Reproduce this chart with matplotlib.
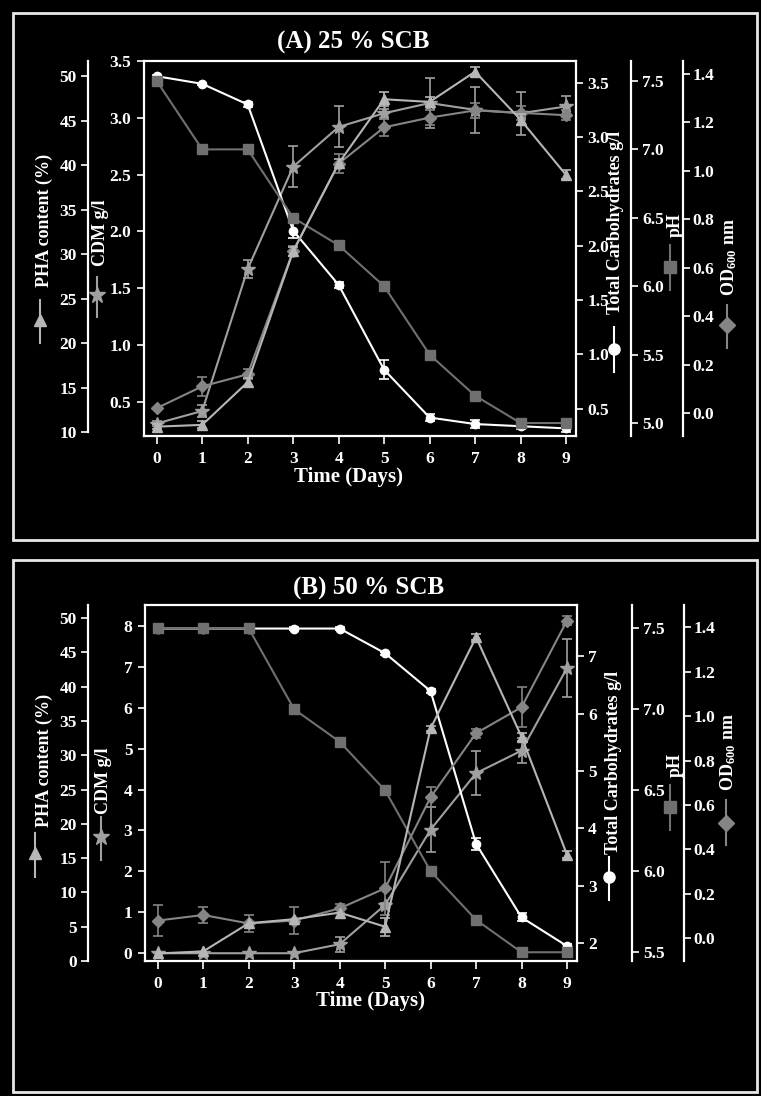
import matplotlib
matplotlib.use('Agg')
import matplotlib.pyplot as plt
from matplotlib.lines import Line2D
from matplotlib.patches import Rectangle
from matplotlib.ticker import FormatStrFormatter
import numpy as np

plt.rcParams['font.family'] = 'Liberation Serif'
plt.rcParams['font.weight'] = 'bold'
plt.rcParams['mathtext.fontset'] = 'custom'
plt.rcParams['mathtext.rm'] = 'Liberation Serif:bold'
plt.rcParams['mathtext.default'] = 'rm'

W, H = 761, 1096

# grey levels used for the five series
C_CARB = '#ffffff'
C_PH = '#707070'
C_OD = '#858585'
C_CDM = '#a0a0a0'
C_PHA = '#b6b6b6'

# --- Data ------------------------------------------------------------
days = np.arange(10)
day_ticks = list(range(10))

# (A) 25 % SCB
a_carb = [3.56, 3.49, 3.30, 2.14, 1.64, 0.86, 0.42, 0.36, 0.34, 0.32]
a_carb_err = [0.01, 0.01, 0.02, 0.07, 0.03, 0.09, 0.03, 0.04, 0.03, 0.03]
a_ph = [7.5, 7.0, 7.0, 6.5, 6.3, 6.0, 5.5, 5.2, 5.0, 5.0]
a_od = [0.02, 0.11, 0.16, 0.67, 1.03, 1.18, 1.22, 1.25, 1.24, 1.23]
a_od_err = [0, 0.04, 0.02, 0.02, 0.04, 0.035, 0.03, 0.03, 0.03, 0.02]
a_cdm = [0.31, 0.42, 1.67, 2.57, 2.92, 3.04, 3.13, 3.07, 3.04, 3.10]
a_cdm_err = [0.02, 0.05, 0.08, 0.18, 0.18, 0.04, 0.22, 0.20, 0.19, 0.09]
a_pha = [10.6, 10.8, 15.6, 30.3, 40.2, 47.4, 47.1, 50.5, 45.1, 38.9]
a_pha_err = [0.3, 0.4, 0.5, 0.5, 0.5, 0.8, 0.5, 0.5, 0.6, 0.5]

# (B) 50 % SCB
b_carb = [7.48, 7.48, 7.48, 7.48, 7.48, 7.05, 6.39, 3.73, 2.45, 1.95]
b_carb_err = [0.02, 0.02, 0.02, 0.02, 0.02, 0.03, 0.04, 0.10, 0.07, 0.03]
b_ph = [7.5, 7.5, 7.5, 7.0, 6.8, 6.5, 6.0, 5.7, 5.5, 5.5]
b_od = [0.08, 0.105, 0.067, 0.08, 0.135, 0.225, 0.635, 0.923, 1.04, 1.43]
b_od_err = [0.07, 0.035, 0.04, 0.06, 0.02, 0.12, 0.045, 0.02, 0.09, 0.02]
b_cdm = [0.0, 0.0, 0.0, 0.0, 0.22, 1.18, 3.02, 4.40, 4.95, 6.97]
b_cdm_err = [0, 0, 0, 0, 0.18, 0.05, 0.55, 0.53, 0.30, 0.71]
b_pha = [1.1, 1.4, 5.5, 6.1, 7.05, 5.0, 33.9, 47.2, 32.7, 15.5]
b_pha_err = [0, 0, 0, 0, 0, 1.3, 0.4, 0.4, 0.6, 0.5]

a_ticks = {
    'cdm': [0.5, 1.0, 1.5, 2.0, 2.5, 3.0, 3.5],
    'pha': [10, 15, 20, 25, 30, 35, 40, 45, 50],
    'carb': [0.5, 1.0, 1.5, 2.0, 2.5, 3.0, 3.5],
    'ph': [5.0, 5.5, 6.0, 6.5, 7.0, 7.5],
    'od': [0.0, 0.2, 0.4, 0.6, 0.8, 1.0, 1.2, 1.4],
}
b_ticks = {
    'cdm': [0, 1, 2, 3, 4, 5, 6, 7, 8],
    'pha': [0, 5, 10, 15, 20, 25, 30, 35, 40, 45, 50],
    'carb': [2, 3, 4, 5, 6, 7],
    'ph': [5.5, 6.0, 6.5, 7.0, 7.5],
    'od': [0.0, 0.2, 0.4, 0.6, 0.8, 1.0, 1.2, 1.4],
}

fig = plt.figure(figsize=(W / 100, H / 100), dpi=100, facecolor='black')


def fx(x):
    return x / W


def fy(y):
    return 1 - y / H


def frame(x0, y0, x1, y1):
    fig.patches.append(Rectangle((fx(x0), fy(y1)), fx(x1) - fx(x0), fy(y0) - fy(y1),
                                 transform=fig.transFigure, fill=False,
                                 edgecolor='#e8e8e8', linewidth=2))


def style_axis(ax, side, ticks, fmt, pad):
    ax.set_yticks(ticks)
    if fmt:
        ax.yaxis.set_major_formatter(FormatStrFormatter(fmt))
    ax.tick_params(axis='y', which='both', colors='white', labelsize=12.5,
                   length=5, width=1.2, pad=pad, direction='out',
                   left=(side == 'left'), labelleft=(side == 'left'),
                   right=(side == 'right'), labelright=(side == 'right'))


def series(ax, y, err, color, marker, ms, z, mfc=None):
    y = np.asarray(y, float)
    ax.plot(days, y, color=color, lw=1.5, marker=marker, ms=ms,
            mfc=mfc or color, mec=color, zorder=z, clip_on=False)
    err = np.asarray(err, float)
    m = err > 0
    if m.any():
        ax.errorbar(days[m], y[m], yerr=err[m], fmt='none', ecolor=color,
                    elinewidth=1.2, capsize=3.5, capthick=1.2, zorder=z,
                    clip_on=False)


def legend_key(x, ymid, y0, y1, color, marker, ms):
    fig.add_artist(Line2D([fx(x), fx(x)], [fy(y0), fy(y1)], transform=fig.transFigure,
                          color=color, lw=1.5))
    fig.add_artist(Line2D([fx(x)], [fy(ymid)], transform=fig.transFigure,
                          marker=marker, ms=ms, color=color, mec=color, lw=0))


def panel(box, x_pha, x_ph, x_od, lims, ticks, fmts, data):
    x0, y0, x1, y1 = box
    ax = fig.add_axes([fx(x0), fy(y1), fx(x1) - fx(x0), fy(y0) - fy(y1)])
    ax.set_facecolor('black')
    for s in ax.spines.values():
        s.set_color('white')
        s.set_linewidth(1.6)
    ax.set_xlim(-0.28, 9.22)
    ax.set_xticks(day_ticks)
    ax.tick_params(axis='x', colors='white', labelsize=12.5, length=6, width=1.2, pad=5)
    ax.set_ylim(*lims['cdm'])
    style_axis(ax, 'left', ticks['cdm'], fmts['cdm'], 4)

    ax_carb = ax.twinx()
    ax_ph = ax.twinx()
    ax_od = ax.twinx()
    ax_pha = ax.twinx()
    for a in (ax_carb, ax_ph, ax_od, ax_pha):
        for s in a.spines.values():
            s.set_visible(False)
            s.set_color('white')
            s.set_linewidth(1.6)
    ax_carb.set_ylim(*lims['carb'])
    style_axis(ax_carb, 'right', ticks['carb'], fmts['carb'], 3)

    ax_ph.spines['right'].set_visible(True)
    ax_ph.spines['right'].set_position(('outward', (x_ph - x1) * 0.72))
    ax_ph.set_ylim(*lims['ph'])
    style_axis(ax_ph, 'right', ticks['ph'], '%.1f', 3)

    ax_od.spines['right'].set_visible(True)
    ax_od.spines['right'].set_position(('outward', (x_od - x1) * 0.72))
    ax_od.set_ylim(*lims['od'])
    style_axis(ax_od, 'right', ticks['od'], '%.1f', 2)

    ax_pha.spines['left'].set_visible(True)
    ax_pha.spines['left'].set_position(('outward', (x0 - x_pha) * 0.72))
    ax_pha.set_ylim(*lims['pha'])
    ax_pha.spines['left'].set_bounds(ticks['pha'][0], lims['pha'][1])
    ax_pha.yaxis.set_label_position('left')
    style_axis(ax_pha, 'left', ticks['pha'], None, 3)

    carb, carb_err, ph, od, od_err, cdm, cdm_err, pha, pha_err = data
    series(ax_ph, ph, [0] * 10, C_PH, 's', 6.5, 2)
    series(ax_od, od, od_err, C_OD, 'D', 6.5, 3)
    series(ax_pha, pha, pha_err, C_PHA, '^', 7, 4)
    series(ax, cdm, cdm_err, C_CDM, '*', 10, 5)
    series(ax_carb, carb, carb_err, C_CARB, 'o', 6, 6)
    return ax


# frames around the two panels
frame(13, 13, 757, 540)
frame(13, 560, 757, 1092)

# --- Panel A ---------------------------------------------------------
panel((144, 61, 576, 436), 88, 631, 683,
      {'cdm': (0.2, 3.5), 'carb': (0.25, 3.70), 'ph': (4.905, 7.646),
       'od': (-0.095, 1.454), 'pha': (9.55, 51.7)},
      a_ticks, {'cdm': '%.1f', 'carb': '%.1f'},
      (a_carb, a_carb_err, a_ph, a_od, a_od_err, a_cdm, a_cdm_err, a_pha, a_pha_err))

# --- Panel B ---------------------------------------------------------
panel((145, 605, 577, 961), 88, 632, 684,
      {'cdm': (-0.19, 8.51), 'carb': (1.69, 7.89), 'ph': (5.446, 7.644),
       'od': (-0.102, 1.50), 'pha': (0.0, 51.9)},
      b_ticks, {'cdm': '%d', 'carb': '%d'},
      (b_carb, b_carb_err, b_ph, b_od, b_od_err, b_cdm, b_cdm_err, b_pha, b_pha_err))

# titles and axis labels (text placed in figure pixels)
txt = dict(color='white', ha='center', va='center', fontweight='bold')
fig.text(fx(353), fy(42), '(A) 25 % SCB', fontsize=18, **txt)
fig.text(fx(369), fy(588), '(B) 50 % SCB', fontsize=18, **txt)
fig.text(fx(349), fy(477), 'Time (Days)', fontsize=15, **txt)
fig.text(fx(371), fy(1001), 'Time (Days)', fontsize=15, **txt)

labels = [
    # (text, x A, y A, x B, y B)
    ('PHA content (%)', 44, 220, 44, 760),
    ('CDM g/l', 101, 233, 104, 781),
    ('Total Carbohydrates g/l', 616, 222, 613, 762),
    ('pH', 675, 225, 675, 765),
    ('OD$_{600}$ nm', 729, 257, 728, 752),
]
for t, xa, ya, xb, yb in labels:
    fig.text(fx(xa), fy(ya), t, fontsize=13, rotation=90, **txt)
    fig.text(fx(xb), fy(yb), t, fontsize=13, rotation=90, **txt)

# small keys drawn beside the axis labels
legend_key(40, 320, 300, 343, C_PHA, '^', 9)
legend_key(97, 295, 277, 317, C_CDM, '*', 12)
legend_key(614, 349, 327, 372, C_CARB, 'o', 8)
legend_key(670, 267, 245, 290, C_PH, 's', 8)
legend_key(727, 325, 305, 348, C_OD, 'D', 8)

legend_key(35, 853, 833, 877, C_PHA, '^', 9)
legend_key(101, 837, 817, 860, C_CDM, '*', 12)
legend_key(609, 877, 857, 900, C_CARB, 'o', 8)
legend_key(670, 807, 785, 830, C_PH, 's', 8)
legend_key(726, 823, 800, 845, C_OD, 'D', 8)

fig.savefig('out.png', dpi=100, facecolor='black')
